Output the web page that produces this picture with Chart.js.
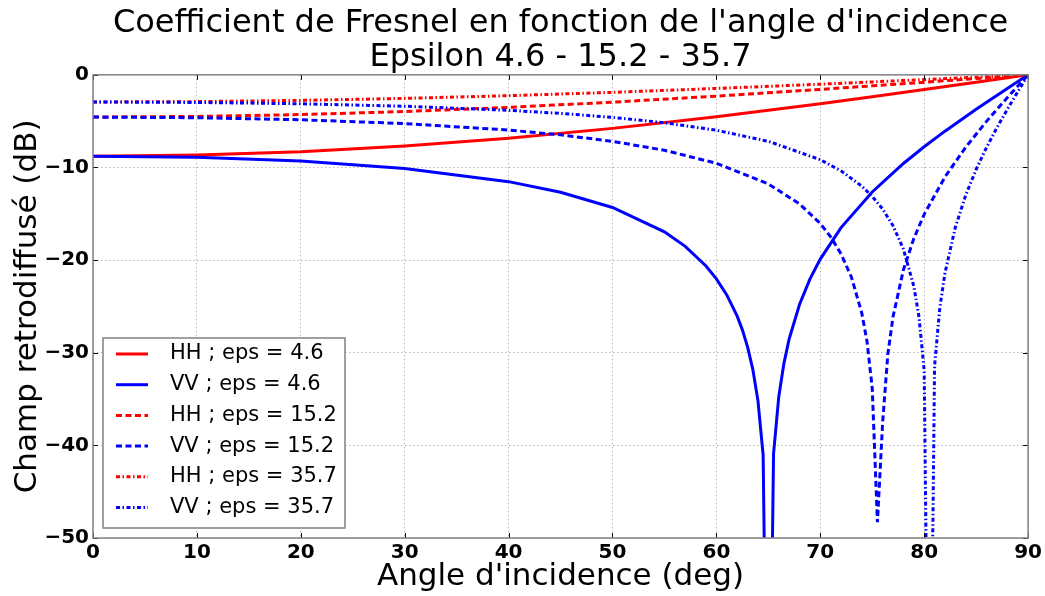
<!DOCTYPE html>
<html>
<head>
<meta charset="utf-8">
<script src="https://cdn.jsdelivr.net/npm/chart.js@4.4.1/dist/chart.umd.min.js"></script>
<style>
  html, body { margin: 0; padding: 0; background: #fff; }
  #wrap { width: 1045px; height: 596px; }
</style>
</head>
<body>
<div id="wrap"><canvas id="fresnel" width="1045" height="596"></canvas></div>
<script>
// Coefficient de Fresnel (dB) en fonction de l'angle d'incidence
const titleLines = ["Coefficient de Fresnel en fonction de l'angle d'incidence", 'Epsilon 4.6 - 15.2 - 35.7'];
const xTitle = "Angle d'incidence (deg)";
const yTitle = 'Champ retrodiffusé (dB)';

const xTicks = [0, 10, 20, 30, 40, 50, 60, 70, 80, 90];
const xTickLabels = ['0', '10', '20', '30', '40', '50', '60', '70', '80', '90'];
const yTicks = [0, -10, -20, -30, -40, -50];
const yTickLabels = ['0', '\u221210', '\u221220', '\u221230', '\u221240', '\u221250'];

const seriesLabels = ['HH ; eps = 4.6', 'VV ; eps = 4.6', 'HH ; eps = 15.2', 'VV ; eps = 15.2', 'HH ; eps = 35.7', 'VV ; eps = 35.7'];

// HH : courbes lisses
const hhAngles = [0, 10, 20, 30, 40, 50, 60, 70, 75, 80, 85, 88, 90];
const hh46  = [-8.78, -8.65, -8.29, -7.68, -6.84, -5.78, -4.53, -3.11, -2.36, -1.59, -0.80, -0.32, 0];
const hh152 = [-4.56, -4.49, -4.29, -3.96, -3.51, -2.95, -2.30, -1.57, -1.19, -0.80, -0.40, -0.16, 0];
const hh357 = [-2.93, -2.89, -2.76, -2.54, -2.25, -1.89, -1.47, -1.01, -0.76, -0.51, -0.26, -0.10, 0];

// VV : creux a l'angle de Brewster
const vv46Angles = [0, 10, 20, 30, 40, 45, 50, 55, 57, 59, 60, 61, 62, 62.5, 63, 63.5, 64, 64.5, 65, 65.5, 66, 66.5, 67, 68, 69, 70, 72, 75, 78, 80, 82, 85, 88, 90];
const vv46 = [-8.78, -8.90, -9.31, -10.10, -11.53, -12.67, -14.32, -16.95, -18.52, -20.63, -22.02, -23.76, -26.05, -27.53, -29.37, -31.76, -35.17, -41.06, -86, -40.93, -34.79, -31.15, -28.53, -24.79, -22.06, -19.89, -16.49, -12.64, -9.57, -7.76, -6.08, -3.72, -1.47, 0];

const vv152Angles = [0, 10, 20, 30, 40, 45, 50, 55, 60, 65, 68, 70, 71, 72, 73, 74, 74.5, 75, 75.5, 76, 76.5, 77, 78, 79, 80, 82, 84, 86, 88, 89, 90];
const vv152 = [-4.56, -4.63, -4.85, -5.26, -5.96, -6.48, -7.18, -8.14, -9.55, -11.78, -13.93, -16.05, -17.49, -19.33, -21.85, -25.74, -28.81, -33.83, -48.3, -37.55, -30.17, -26.12, -21.06, -17.67, -15.06, -11.02, -7.81, -5.02, -2.46, -1.22, 0];

const vv357Angles = [0, 10, 20, 30, 40, 45, 50, 55, 60, 65, 70, 72, 74, 75, 76, 77, 78, 79, 79.5, 80, 80.5, 81, 81.5, 82, 83, 84, 85, 86, 87, 88, 89, 90];
const vv357 = [-2.93, -2.98, -3.12, -3.39, -3.83, -4.16, -4.59, -5.17, -5.98, -7.18, -9.16, -10.37, -12.02, -13.12, -14.49, -16.29, -18.81, -22.82, -26.13, -31.93, -84, -31.42, -25.17, -21.40, -16.45, -12.98, -10.21, -7.84, -5.71, -3.73, -1.84, 0];

const FONT = "'DejaVu Sans', 'Liberation Sans', sans-serif";
const RED = '#ff0000';
const BLUE = '#0000ff';
const SOLID = [];
const DASHED = [6, 3.5];
const DASHDOT = [4, 2.5, 1.5, 2.5];

function toPoints(xs, ys) {
    return xs.map((x, i) => ({ x: x, y: ys[i] }));
}

function makeSet(idx, xs, ys, color, dash) {
    return {
        label: seriesLabels[idx],
        data: toPoints(xs, ys),
        borderColor: color,
        backgroundColor: color,
        borderWidth: 3,
        borderDash: dash,
        borderCapStyle: 'butt',
        borderJoinStyle: 'miter',
        pointRadius: 0,
        tension: 0,
        fill: false,
        order: 10 - idx   // les dernieres series par-dessus
    };
}

// cadre, petites graduations et legende
const framePlugin = {
    id: 'frame',
    afterDraw(chart) {
        const ctx = chart.ctx;
        const a = chart.chartArea;
        const xs = chart.scales.x;
        const ys = chart.scales.y;
        ctx.save();
        ctx.setLineDash([]);
        ctx.strokeStyle = '#000';
        ctx.lineWidth = 1;
        xTicks.forEach(v => {
            const px = Math.round(xs.getPixelForValue(v)) + 0.5;
            ctx.beginPath();
            ctx.moveTo(px, a.bottom); ctx.lineTo(px, a.bottom - 5);
            ctx.moveTo(px, a.top); ctx.lineTo(px, a.top + 5);
            ctx.stroke();
        });
        yTicks.forEach(v => {
            const py = Math.round(ys.getPixelForValue(v)) + 0.5;
            ctx.beginPath();
            ctx.moveTo(a.left, py); ctx.lineTo(a.left + 5, py);
            ctx.moveTo(a.right, py); ctx.lineTo(a.right - 5, py);
            ctx.stroke();
        });
        ctx.strokeStyle = '#808080';
        ctx.lineWidth = 1.5;
        ctx.strokeRect(a.left, a.top, a.right - a.left, a.bottom - a.top);

        // legende en bas a gauche
        const boxW = 242, boxH = 190;
        const bx = a.left + 10, by = a.bottom - 10 - boxH;
        ctx.fillStyle = '#fff';
        ctx.fillRect(bx, by, boxW, boxH);
        ctx.strokeStyle = '#808080';
        ctx.lineWidth = 1.5;
        ctx.strokeRect(bx, by, boxW, boxH);
        ctx.font = '21px ' + FONT;
        ctx.textBaseline = 'middle';
        ctx.textAlign = 'left';
        chart.data.datasets.forEach((ds, i) => {
            const cy = by + 16 + i * 30.7;
            ctx.strokeStyle = ds.borderColor;
            ctx.lineWidth = 3;
            ctx.lineCap = 'butt';
            ctx.setLineDash(ds.borderDash);
            ctx.beginPath();
            ctx.moveTo(bx + 13, cy);
            ctx.lineTo(bx + 45, cy);
            ctx.stroke();
            ctx.setLineDash([]);
            ctx.fillStyle = '#000';
            ctx.fillText(ds.label, bx + 67, cy);
        });
        ctx.restore();
    }
};

const chart = new Chart(document.getElementById('fresnel'), {
    type: 'line',
    data: {
        datasets: [
            makeSet(0, hhAngles, hh46, RED, SOLID),
            makeSet(1, vv46Angles, vv46, BLUE, SOLID),
            makeSet(2, hhAngles, hh152, RED, DASHED),
            makeSet(3, vv152Angles, vv152, BLUE, DASHED),
            makeSet(4, hhAngles, hh357, RED, DASHDOT),
            makeSet(5, vv357Angles, vv357, BLUE, DASHDOT)
        ]
    },
    options: {
        responsive: false,
        animation: false,
        devicePixelRatio: 1,
        layout: { padding: { left: 0, right: 15, top: 0, bottom: 0 } },
        plugins: {
            legend: { display: false },
            tooltip: { enabled: false },
            title: {
                display: true,
                text: titleLines,
                fullSize: false,
                color: '#000',
                font: { family: FONT, size: 32, weight: 'normal', lineHeight: 1.06 },
                padding: { top: 7, bottom: 0 }
            }
        },
        scales: {
            x: {
                type: 'linear',
                min: 0,
                max: 90,
                afterFit(s) { s.height = 58; },
                afterBuildTicks(s) { s.ticks = xTicks.map(v => ({ value: v })); },
                ticks: {
                    color: '#000',
                    padding: 3,
                    maxRotation: 0,
                    autoSkip: false,
                    font: { family: FONT, size: 20, weight: 'bold' },
                    callback: (v) => xTickLabels[xTicks.indexOf(v)] ?? ''
                },
                grid: { color: 'rgba(0,0,0,0.28)', lineWidth: 1, drawTicks: false },
                border: { display: false, dash: [1.5, 2.5] },
                title: {
                    display: true,
                    text: xTitle,
                    color: '#000',
                    font: { family: FONT, size: 31, weight: 'normal' },
                    padding: { top: 0, bottom: 0 }
                }
            },
            y: {
                type: 'linear',
                min: -50,
                max: 0,
                afterFit(s) { s.width = 93; },
                afterBuildTicks(s) { s.ticks = yTicks.map(v => ({ value: v })); },
                ticks: {
                    color: '#000',
                    padding: 4,
                    autoSkip: false,
                    font: { family: FONT, size: 20, weight: 'bold' },
                    callback: (v) => yTickLabels[yTicks.indexOf(v)] ?? ''
                },
                grid: { color: 'rgba(0,0,0,0.28)', lineWidth: 1, drawTicks: false },
                border: { display: false, dash: [1.5, 2.5] },
                title: {
                    display: true,
                    text: yTitle,
                    color: '#000',
                    font: { family: FONT, size: 31, weight: 'normal' },
                    padding: { top: 9, bottom: 0 }
                }
            }
        }
    },
    plugins: [framePlugin]
});
</script>
</body>
</html>
